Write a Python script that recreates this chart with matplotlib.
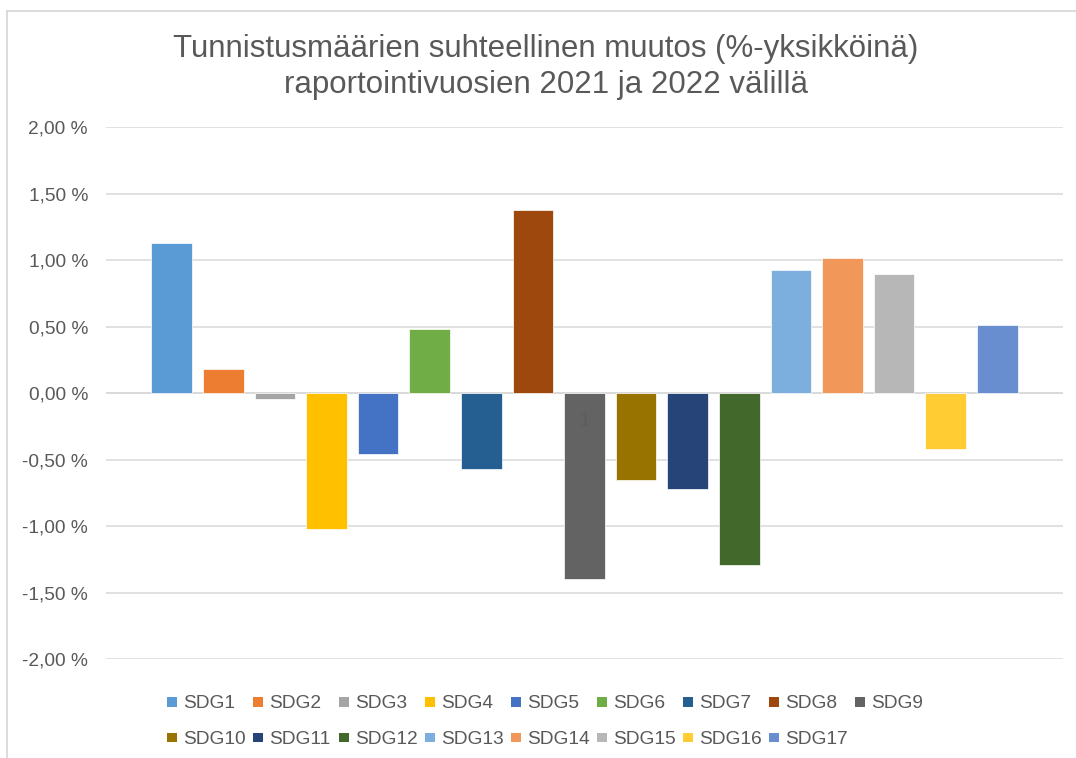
import matplotlib
matplotlib.use("Agg")
import matplotlib.pyplot as plt
import numpy as np
from matplotlib.lines import Line2D
from matplotlib.patches import Rectangle
from matplotlib.ticker import FuncFormatter, MultipleLocator

plt.rcParams["font.family"] = ["Liberation Sans", "DejaVu Sans"]

# relative change per SDG, in percentage points
series = ["SDG1", "SDG2", "SDG3", "SDG4", "SDG5", "SDG6", "SDG7", "SDG8", "SDG9",
          "SDG10", "SDG11", "SDG12", "SDG13", "SDG14", "SDG15", "SDG16", "SDG17"]
values = [1.13, 0.185, -0.045, -1.02, -0.455, 0.483, -0.57, 1.378, -1.398,
          -0.65, -0.72, -1.293, 0.928, 1.016, 0.898, -0.42, 0.514]
colors = ["#5B9BD5", "#ED7D31", "#A5A5A5", "#FFC000", "#4472C4", "#70AD47", "#255E91",
          "#9E480E", "#636363", "#997300", "#264478", "#43682B", "#7CAFDD", "#F1975A",
          "#B7B7B7", "#FFCD33", "#698ED0"]
category = "1"
title_lines = ["Tunnistusmäärien suhteellinen muutos (%-yksikköinä)",
               "raportointivuosien 2021 ja 2022 välillä"]

W, H = 1076, 758
TEXT = "#595959"
GRID = "#D9D9D9"

fig = plt.figure(figsize=(W / 100, H / 100), dpi=100)
ax = fig.add_axes([106 / W, 1 - 659.3 / H, (1063 - 106) / W, (659.3 - 127.3) / H])

x = np.arange(len(series))
ax.bar(x, np.array(values) / 100, width=0.787, color=colors,
       edgecolor="white", linewidth=0.5, zorder=3)

ax.set_ylim(-0.02, 0.02)
half = (1063 - 106) / 2 / 51.6
ax.set_xlim(8 - half, 8 + half)
ax.yaxis.set_major_locator(MultipleLocator(0.005))
ax.yaxis.set_major_formatter(FuncFormatter(lambda v, p: f"{v * 100:.2f} %".replace(".", ",")))
ax.grid(axis="y", color=GRID, linewidth=1.1, zorder=0)
ax.axhline(0, color=GRID, linewidth=1.1, zorder=1)
ax.set_xticks([])
ax.tick_params(axis="y", length=0, pad=13, labelsize=13.8, labelcolor=TEXT)
for s in ax.spines.values():
    s.set_visible(False)

# category label sits just under the zero line, on top of the SDG9 bar
ax.annotate(category, (8, 0), xytext=(0, -14), textcoords="offset points",
            ha="center", va="top", fontsize=13.6, color=TEXT, alpha=0.6, zorder=4)

# title
fig.text(546 / W, 1 - 56.7 / H, title_lines[0], ha="center", va="baseline",
         fontsize=22.5, color=TEXT)
fig.text(546 / W, 1 - 92.7 / H, title_lines[1], ha="center", va="baseline",
         fontsize=22.5, color=TEXT)

# legend, laid out like Excel: 9 equal columns
ncol = 9
for i, (name, c) in enumerate(zip(series, colors)):
    row, col = divmod(i, ncol)
    mx = 167.3 + col * 86.0
    my = 702.0 + row * 35.5
    fig.add_artist(Rectangle((mx / W, 1 - (my + 4.7) / H), 9.4 / W, 9.4 / H,
                             transform=fig.transFigure, facecolor=c, edgecolor="none"))
    fig.text((mx + 15.4) / W, 1 - my / H, name, ha="left", va="center_baseline",
             fontsize=13.8, color=TEXT)

# chart area border (only top and left edges are visible in the crop)
fig.add_artist(Line2D([6.7 / W, 6.7 / W], [0, 1 - 10.7 / H], transform=fig.transFigure,
                      color=GRID, linewidth=1.3))
fig.add_artist(Line2D([6.7 / W, 1], [1 - 10.7 / H, 1 - 10.7 / H], transform=fig.transFigure,
                      color=GRID, linewidth=1.3))

fig.savefig("out.png", dpi=100, facecolor="white")
